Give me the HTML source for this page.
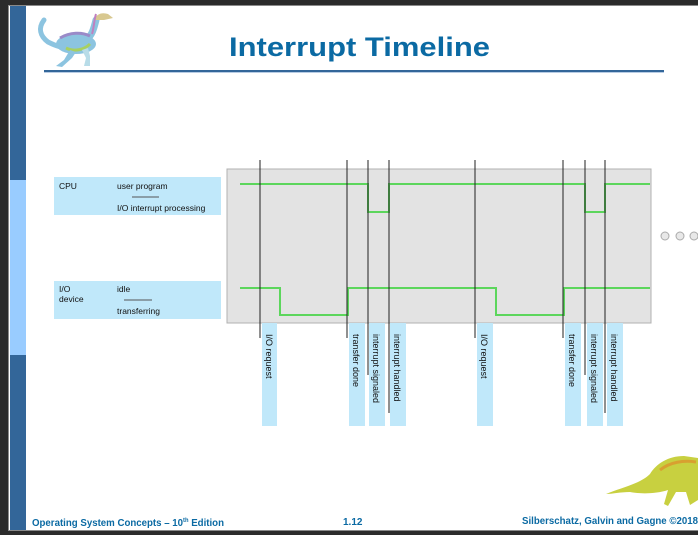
<!DOCTYPE html>
<html><head><meta charset="utf-8"><style>
html,body{margin:0;padding:0;background:#2b2b2b;}
svg{display:block;font-family:"Liberation Sans",sans-serif;}
</style></head><body>
<svg width="698" height="535" viewBox="0 0 698 535" xmlns="http://www.w3.org/2000/svg">
<rect x="0" y="0" width="698" height="535" fill="#2b2b2b"/>
<rect x="8" y="5" width="690" height="526" fill="#8a8a8a"/>
<rect x="9" y="6" width="689" height="524" fill="#ffffff"/>
<rect x="10" y="6" width="16" height="524" fill="#336699"/>
<rect x="10" y="180" width="16" height="175" fill="#99ccff"/>
<!-- top dino -->
<g>
<path d="M44 20 C38 28 40 36 48 42 C56 46 62 48 70 48" stroke="#8cc4e0" stroke-width="5" fill="none" stroke-linecap="round"/>
<ellipse cx="76" cy="44" rx="20" ry="10" fill="#8cc4e0"/>
<path d="M86 40 C92 36 94 28 96 20" stroke="#8cc4e0" stroke-width="7" fill="none" stroke-linecap="round"/>
<path d="M94 20 C96 14 102 12 108 14 L113 18 L104 20 Z" fill="#d8c890"/>
<path d="M96 14 C94 20 94 28 92 34" stroke="#c080c0" stroke-width="2" fill="none"/>
<path d="M60 38 C70 32 82 32 90 36" stroke="#9a8ac8" stroke-width="3" fill="none"/>
<path d="M66 48 C74 52 84 50 90 44" stroke="#a8d060" stroke-width="3" fill="none"/>
<path d="M70 50 L64 60 L56 66 L62 67 L72 58 L76 52 Z" fill="#8cc4e0"/>
<path d="M82 50 L86 58 L84 66 L90 66 L90 56 L88 48 Z" fill="#b8dce8"/>
</g>
<rect x="44" y="70" width="620" height="2" fill="#336699"/>
<rect x="44" y="72" width="620" height="1" fill="#b8cce4"/>
<text x="229" y="56" font-size="27" font-weight="bold" fill="#0b6aa3" textLength="261" lengthAdjust="spacingAndGlyphs">Interrupt Timeline</text>
<!-- labels -->
<rect x="54" y="177" width="167" height="38" fill="#c0e8fa"/>
<text x="59" y="189" font-size="8.5" fill="#111">CPU</text>
<text x="117" y="189" font-size="8.5" fill="#111">user program</text>
<line x1="132" y1="197" x2="159" y2="197" stroke="#555" stroke-width="1"/>
<text x="117" y="211" font-size="8.5" fill="#111">I/O interrupt processing</text>
<rect x="54" y="281" width="167" height="38" fill="#c0e8fa"/>
<text x="59" y="292" font-size="8.5" fill="#111">I/O</text>
<text x="59" y="302" font-size="8.5" fill="#111">device</text>
<text x="117" y="292" font-size="8.5" fill="#111">idle</text>
<line x1="124" y1="300" x2="152" y2="300" stroke="#555" stroke-width="1"/>
<text x="117" y="314" font-size="8.5" fill="#111">transferring</text>
<!-- gray box -->
<rect x="227" y="169" width="424" height="154" fill="#e3e3e3" stroke="#b0b0b0" stroke-width="1"/>
<!-- label boxes -->
<g fill="#c0e8fa">
<rect x="262" y="323" width="15" height="103"/>
<rect x="349" y="323" width="16" height="103"/>
<rect x="369" y="323" width="16" height="103"/>
<rect x="390" y="323" width="16" height="103"/>
<rect x="477" y="323" width="16" height="103"/>
<rect x="565" y="323" width="16" height="103"/>
<rect x="587" y="323" width="16" height="103"/>
<rect x="607" y="323" width="16" height="103"/>
</g>
<!-- green lines -->
<polyline points="240,184 368,184 368,212 389,212 389,184 585,184 585,212 605,212 605,184 650,184" fill="none" stroke="#5cd65c" stroke-width="2"/>
<polyline points="240,288 280,288 280,315 348,315 348,288 496,288 496,315 564,315 564,288 650,288" fill="none" stroke="#5cd65c" stroke-width="2"/>
<!-- vertical lines -->
<g stroke="#222" stroke-width="1">
<line x1="260" y1="160" x2="260" y2="338"/>
<line x1="347" y1="160" x2="347" y2="338"/>
<line x1="368" y1="160" x2="368" y2="375"/>
<line x1="389" y1="160" x2="389" y2="413"/>
<line x1="475" y1="160" x2="475" y2="338"/>
<line x1="563" y1="160" x2="563" y2="338"/>
<line x1="585" y1="160" x2="585" y2="375"/>
<line x1="605" y1="160" x2="605" y2="413"/>
</g>
<!-- rotated labels -->
<g font-size="9" fill="#111">
<text transform="translate(266,334) rotate(90)">I/O request</text>
<text transform="translate(353,334) rotate(90)">transfer done</text>
<text transform="translate(373,334) rotate(90)">interrupt signaled</text>
<text transform="translate(394,334) rotate(90)">interrupt handled</text>
<text transform="translate(481,334) rotate(90)">I/O request</text>
<text transform="translate(569,334) rotate(90)">transfer done</text>
<text transform="translate(591,334) rotate(90)">interrupt signaled</text>
<text transform="translate(611,334) rotate(90)">interrupt handled</text>
</g>
<g fill="#e8e8e8" stroke="#aaa" stroke-width="1">
<circle cx="665" cy="236" r="4"/>
<circle cx="680" cy="236" r="4"/>
<circle cx="694" cy="236" r="4"/>
</g>
<!-- bottom dino -->
<path d="M606 494 C620 488 640 484 650 474 C656 464 668 456 684 456 L698 458 L698 500 L690 505 L686 492 L676 492 L668 506 L664 504 L668 490 C656 494 640 494 630 492 C620 492 612 494 606 494 Z" fill="#c8d040"/>
<path d="M660 470 C670 462 684 460 696 462" stroke="#d8a030" stroke-width="3" fill="none"/>
<!-- footer -->
<text x="32" y="526" font-size="10" font-weight="bold" fill="#0b6aa3" textLength="192" lengthAdjust="spacingAndGlyphs">Operating System Concepts – 10<tspan font-size="6" dy="-4">th</tspan><tspan dy="4"> Edition</tspan></text>
<text x="343" y="525" font-size="10" font-weight="bold" fill="#0b6aa3">1.12</text>
<text x="522" y="524" font-size="10" font-weight="bold" fill="#0b6aa3" textLength="176" lengthAdjust="spacingAndGlyphs">Silberschatz, Galvin and Gagne ©2018</text>
</svg>
</body></html>
